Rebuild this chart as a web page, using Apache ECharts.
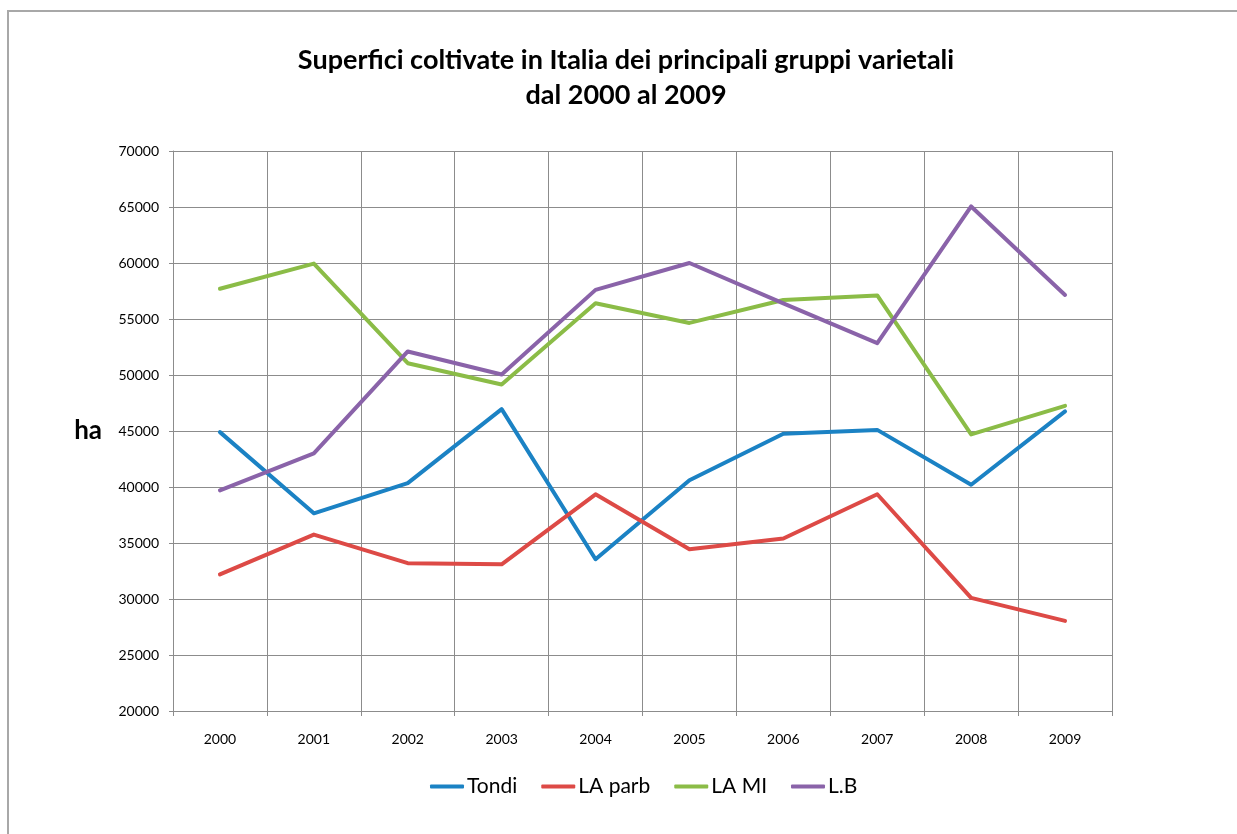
<!DOCTYPE html>
<html>
<head>
<meta charset="utf-8">
<script src="https://cdn.jsdelivr.net/npm/echarts@6/dist/echarts.min.js"></script>
<style>
    html, body { margin: 0; padding: 0; background: #fff; }
    #chart { width: 1237px; height: 834px; }
</style>
</head>
<body>
<div id="chart"></div>
<script>
// 数据
const years = ['2000', '2001', '2002', '2003', '2004', '2005', '2006', '2007', '2008', '2009']
const tondi = [44900, 37650, 40350, 46950, 33550, 40600, 44750, 45100, 40200, 46750]
const laParb = [32200, 35750, 33200, 33100, 39350, 34450, 35400, 39350, 30100, 28050]
const laMi = [57700, 59950, 51050, 49150, 56400, 54650, 56700, 57100, 44700, 47250]
const lB = [39700, 43000, 52100, 50050, 57600, 60000, 56400, 52850, 65050, 57150]
const seriesNames = ['Tondi', 'LA parb', 'LA MI', 'L.B']
const colors = ['#1b82c4', '#dd4a46', '#8bbc47', '#8a63a9']

const chartIns = echarts.init(document.getElementById('chart'))
const font = 'Lato, "Open Sans", sans-serif'
const gridColor = '#8c8c8c'

const makeLine = (name, data, color) => ({
    name,
    type: 'line',
    data,
    symbol: 'none',
    lineStyle: { color, width: 4, cap: 'round', join: 'round' },
    itemStyle: { color }
})

const option = {
    animation: false,
    // 外框
    graphic: [{
        type: 'rect',
        shape: { x: 8, y: 11, width: 1400, height: 1000 },
        style: { fill: 'none', stroke: '#a8a8a8', lineWidth: 2 },
        silent: true
    }],
    title: {
        text: 'Superfici coltivate in Italia dei principali gruppi varietali\ndal 2000 al 2009',
        left: 621,
        textAlign: 'center',
        top: 38,
        textStyle: {
            fontFamily: font,
            fontSize: 27,
            fontWeight: 'bold',
            color: '#000',
            lineHeight: 35
        }
    },
    grid: { left: 173, right: 125, top: 151, bottom: 123 },
    legend: {
        data: seriesNames,
        bottom: 32,
        left: 425,
        icon: 'roundRect',
        itemWidth: 34,
        itemHeight: 4,
        itemGap: 24,
        textStyle: { fontFamily: font, fontSize: 21, color: '#000', padding: [0, 0, 0, -2] }
    },
    xAxis: {
        type: 'category',
        data: years,
        boundaryGap: true,
        axisLine: { lineStyle: { color: gridColor, width: 1 } },
        axisTick: { show: true, length: 5, lineStyle: { color: gridColor } },
        axisLabel: { fontFamily: font, fontSize: 14, color: '#000', margin: 21 },
        splitLine: { show: true, lineStyle: { color: gridColor, width: 1 } }
    },
    yAxis: {
        type: 'value',
        min: 20000,
        max: 70000,
        interval: 5000,
        name: 'ha',
        nameLocation: 'middle',
        nameRotate: 0,
        nameGap: 71,
        nameTextStyle: { fontFamily: font, fontSize: 26, fontWeight: 'bold', color: '#000' },
        axisLine: { show: true, lineStyle: { color: gridColor, width: 1 } },
        axisTick: { show: true, length: 4, lineStyle: { color: gridColor } },
        axisLabel: { fontFamily: font, fontSize: 14, color: '#000', margin: 14, formatter: (v) => String(v) },
        splitLine: { show: true, lineStyle: { color: gridColor, width: 1 } }
    },
    series: [
        makeLine(seriesNames[0], tondi, colors[0]),
        makeLine(seriesNames[1], laParb, colors[1]),
        makeLine(seriesNames[2], laMi, colors[2]),
        makeLine(seriesNames[3], lB, colors[3])
    ]
}
chartIns.setOption(option)
</script>
</body>
</html>
